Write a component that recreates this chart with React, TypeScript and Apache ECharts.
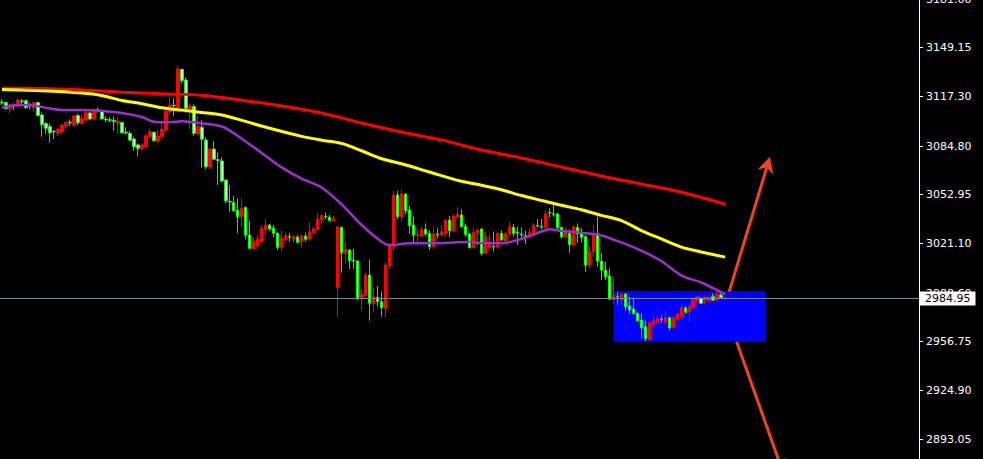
import React, { useEffect, useRef } from "react";
import * as echarts from "echarts";

// Price bars: [open, close, low, high]
const ohlc: number[][] = [
  [3113.6, 3113.2, 3111.6, 3115.4], [3113.2, 3109.3, 3108.8, 3113.8], [3109.0, 3111.6, 3106.2, 3112.1],
  [3111.4, 3111.0, 3108.4, 3112.7], [3111.0, 3114.9, 3110.6, 3116.2], [3114.3, 3113.8, 3111.6, 3115.6],
  [3114.5, 3109.9, 3109.0, 3114.9], [3111.4, 3111.0, 3108.8, 3113.2], [3109.9, 3113.2, 3107.1, 3113.6],
  [3113.2, 3104.7, 3104.5, 3113.8], [3105.1, 3098.8, 3090.9, 3106.6], [3099.6, 3096.4, 3092.7, 3100.5],
  [3097.5, 3093.5, 3087.0, 3099.6], [3094.4, 3094.0, 3089.4, 3095.3], [3093.5, 3095.7, 3091.4, 3096.8],
  [3094.2, 3098.6, 3092.7, 3099.0], [3097.9, 3100.1, 3095.9, 3101.2], [3100.5, 3100.1, 3097.9, 3102.3],
  [3098.6, 3104.5, 3097.5, 3105.1], [3104.7, 3100.1, 3098.6, 3105.8], [3099.6, 3102.9, 3098.6, 3105.8],
  [3101.8, 3106.6, 3100.7, 3108.4], [3106.4, 3102.5, 3101.8, 3107.3], [3102.5, 3108.8, 3102.3, 3109.0],
  [3108.6, 3108.2, 3106.6, 3110.1], [3107.7, 3102.5, 3102.3, 3108.4], [3102.5, 3102.0, 3100.5, 3104.5],
  [3102.0, 3101.6, 3100.5, 3103.6], [3101.6, 3100.7, 3094.8, 3104.0], [3099.6, 3101.2, 3092.7, 3104.0],
  [3100.3, 3093.5, 3093.1, 3100.5], [3094.0, 3093.5, 3092.2, 3097.0], [3093.1, 3088.7, 3088.1, 3094.6],
  [3089.4, 3084.4, 3081.7, 3090.9], [3085.5, 3083.3, 3078.3, 3086.5], [3083.3, 3085.5, 3081.7, 3086.5],
  [3084.4, 3091.4, 3083.9, 3092.7], [3090.9, 3094.2, 3090.3, 3096.4], [3093.8, 3088.3, 3088.1, 3094.2],
  [3088.1, 3091.4, 3086.5, 3095.3], [3090.9, 3095.9, 3090.5, 3100.7], [3095.3, 3107.7, 3094.2, 3108.4],
  [3107.3, 3111.6, 3105.1, 3116.7], [3111.4, 3111.0, 3104.5, 3116.0], [3109.5, 3135.2, 3108.8, 3137.2],
  [3135.0, 3127.6, 3125.8, 3135.2], [3128.0, 3109.5, 3106.6, 3129.8], [3108.8, 3111.0, 3095.7, 3112.7],
  [3110.6, 3093.1, 3091.4, 3112.1], [3092.7, 3097.5, 3092.0, 3104.5], [3097.0, 3089.2, 3070.6, 3101.8],
  [3088.7, 3071.3, 3069.5, 3090.5], [3071.3, 3082.8, 3069.5, 3083.3], [3082.8, 3076.1, 3075.6, 3088.1],
  [3075.9, 3075.4, 3059.3, 3080.7], [3075.0, 3061.9, 3060.8, 3077.4], [3062.5, 3049.0, 3047.3, 3063.0],
  [3048.6, 3048.1, 3041.8, 3059.3], [3047.9, 3042.5, 3041.8, 3052.1], [3042.9, 3038.5, 3027.6, 3050.5],
  [3038.6, 3044.0, 3031.6, 3050.6], [3044.7, 3026.6, 3023.8, 3045.1], [3026.6, 3017.9, 3017.4, 3036.0],
  [3017.6, 3022.7, 3017.4, 3025.1], [3019.6, 3024.0, 3017.2, 3026.6], [3022.2, 3031.0, 3021.1, 3033.1],
  [3030.5, 3033.1, 3026.6, 3037.1], [3033.1, 3030.5, 3029.4, 3033.8], [3031.0, 3027.7, 3025.1, 3033.1],
  [3027.7, 3018.5, 3016.8, 3028.3], [3018.5, 3024.4, 3015.7, 3029.2], [3024.0, 3026.2, 3022.2, 3028.3],
  [3025.5, 3025.1, 3022.2, 3027.9], [3023.8, 3025.5, 3021.6, 3026.8], [3025.3, 3021.8, 3021.1, 3026.6],
  [3022.2, 3026.2, 3018.3, 3027.0], [3025.9, 3023.8, 3022.2, 3028.1], [3024.0, 3028.8, 3022.9, 3034.9],
  [3028.3, 3030.7, 3027.7, 3032.0], [3030.3, 3037.1, 3029.4, 3040.8], [3036.4, 3039.2, 3034.2, 3040.3],
  [3039.0, 3038.6, 3037.1, 3041.4], [3038.2, 3036.0, 3035.8, 3039.7], [3036.0, 3037.5, 3035.3, 3039.0],
  [2992.1, 3032.0, 2973.1, 3032.5], [3031.6, 3015.0, 3001.9, 3032.0], [3014.6, 3017.4, 3008.0, 3022.2],
  [3016.8, 3009.8, 3004.3, 3017.4], [3010.0, 3009.6, 3004.3, 3017.4], [3009.6, 2985.1, 2983.6, 3009.8],
  [2985.1, 2988.0, 2977.1, 2991.2], [2987.3, 3000.4, 2986.2, 3002.2], [3000.4, 2981.9, 2970.5, 3010.2],
  [2981.9, 2986.2, 2975.8, 2992.1], [2985.8, 2983.0, 2979.7, 2993.2], [2983.0, 2979.0, 2973.1, 2989.5],
  [2978.6, 3007.0, 2972.7, 3008.7], [3006.3, 3020.1, 3004.8, 3021.1], [3019.0, 3052.8, 3016.3, 3055.4],
  [3052.8, 3038.6, 3036.9, 3055.4], [3038.6, 3053.4, 3035.3, 3056.1], [3053.4, 3042.5, 3040.3, 3053.9],
  [3043.0, 3032.7, 3027.3, 3045.6], [3033.1, 3026.6, 3021.1, 3038.6], [3026.2, 3027.0, 3021.1, 3030.3],
  [3025.9, 3030.3, 3025.5, 3032.1], [3030.3, 3027.3, 3025.9, 3034.2], [3027.7, 3019.0, 3016.8, 3029.4],
  [3019.0, 3027.3, 3018.5, 3032.1], [3027.3, 3026.8, 3024.4, 3031.0], [3026.6, 3028.8, 3025.5, 3033.1],
  [3027.7, 3036.4, 3025.5, 3036.9], [3036.4, 3029.4, 3025.1, 3039.0], [3029.4, 3039.0, 3028.8, 3040.3],
  [3038.6, 3040.1, 3037.5, 3044.7], [3039.7, 3032.1, 3031.6, 3043.4], [3032.1, 3027.0, 3025.5, 3033.8],
  [3027.3, 3018.3, 3017.9, 3028.1], [3018.3, 3028.3, 3017.9, 3031.6], [3028.1, 3029.9, 3019.4, 3031.0],
  [3030.5, 3014.6, 3013.1, 3031.0], [3014.5, 3025.5, 3014.1, 3028.3], [3018.9, 3021.1, 3017.8, 3027.2],
  [3019.1, 3018.7, 3015.6, 3028.8], [3018.5, 3027.6, 3017.8, 3028.8], [3027.6, 3023.3, 3022.8, 3029.8],
  [3022.8, 3027.6, 3021.1, 3028.8], [3027.2, 3032.0, 3025.5, 3035.3], [3031.6, 3027.6, 3025.5, 3033.7],
  [3028.3, 3027.9, 3020.0, 3032.0], [3027.2, 3026.8, 3023.3, 3031.6], [3026.1, 3025.7, 3020.7, 3029.4],
  [3025.5, 3028.1, 3024.4, 3030.9], [3026.6, 3033.1, 3025.5, 3034.2], [3032.9, 3032.4, 3031.6, 3037.0],
  [3032.2, 3031.8, 3030.3, 3037.0], [3031.3, 3040.7, 3030.9, 3042.9], [3041.4, 3040.9, 3038.1, 3044.0],
  [3040.5, 3040.1, 3038.5, 3046.2], [3040.3, 3031.3, 3030.5, 3041.2], [3031.6, 3025.5, 3024.4, 3032.0],
  [3025.5, 3029.4, 3024.8, 3031.6], [3027.6, 3020.4, 3015.0, 3030.3], [3020.0, 3032.0, 3019.3, 3032.4],
  [3031.6, 3027.2, 3021.5, 3034.2], [3027.6, 3025.0, 3021.5, 3030.9], [3025.5, 3006.9, 3002.5, 3026.6],
  [3006.9, 3016.1, 3004.7, 3019.3], [3015.7, 3027.6, 3012.4, 3033.1], [3027.6, 3009.5, 3005.8, 3038.6],
  [3009.5, 3003.6, 2997.1, 3014.6], [3003.7, 2999.3, 2997.1, 3009.1], [2999.8, 2984.5, 2984.0, 3004.8],
  [2984.5, 2987.3, 2981.9, 2998.9], [2986.4, 2986.0, 2980.8, 2989.1], [2984.0, 2988.0, 2980.1, 2988.4],
  [2988.0, 2979.7, 2976.8, 2988.4], [2980.1, 2977.5, 2974.9, 2985.8], [2978.1, 2975.3, 2974.2, 2985.6],
  [2975.3, 2970.5, 2969.9, 2976.0], [2970.9, 2965.9, 2958.9, 2975.3], [2966.6, 2958.9, 2956.8, 2970.9],
  [2958.3, 2969.2, 2956.8, 2969.9], [2968.3, 2970.5, 2965.5, 2974.2], [2969.4, 2972.0, 2968.8, 2973.6],
  [2971.6, 2971.2, 2969.2, 2974.2], [2969.4, 2972.7, 2968.8, 2976.8], [2972.5, 2965.9, 2964.0, 2973.1],
  [2965.9, 2972.7, 2965.5, 2973.1], [2971.6, 2974.9, 2970.9, 2975.7], [2973.1, 2979.2, 2972.7, 2981.9],
  [2979.0, 2976.0, 2975.3, 2980.1], [2976.4, 2979.7, 2969.9, 2981.4], [2979.2, 2984.5, 2979.0, 2985.8],
  [2983.6, 2986.2, 2982.9, 2986.7], [2985.1, 2981.9, 2981.4, 2985.8], [2984.0, 2985.8, 2981.2, 2986.9],
  [2983.4, 2985.8, 2982.9, 2986.2], [2986.2, 2984.0, 2983.4, 2988.4], [2984.0, 2987.7, 2983.6, 2989.5],
  [2987.3, 2985.6, 2985.1, 2988.4], [2985.1, 2984.95, 2984.7, 2985.3],
];

// Bar slots on the time axis (bars plus the empty shift area on the right)
const slotCount = 230;
const categories = Array.from({ length: slotCount }, (_, i) => String(i));

// Moving averages, sampled as [bar index, price]
const slowMA: number[][] = [
  [0, 3122.6], [10, 3122.5], [20, 3121.5], [30, 3120.0], [40, 3119.0], [50, 3118.0],
  [60, 3114.8], [70, 3111.0], [80, 3106.4], [90, 3099.9], [100, 3094.0], [110, 3088.8],
  [120, 3082.2], [130, 3077.0], [140, 3071.1], [150, 3065.2], [160, 3060.0], [170, 3054.7],
  [181, 3046.7],
];
const midMA: number[][] = [
  [0, 3121.8], [10, 3121.0], [20, 3119.5], [25, 3117.9], [30, 3114.6], [35, 3112.5],
  [40, 3109.8], [45, 3108.3], [50, 3106.8], [55, 3105.1], [60, 3101.6], [67, 3096.4],
  [75, 3091.1], [80, 3088.6], [85, 3086.5], [90, 3081.7], [95, 3076.5], [100, 3073.2],
  [107, 3067.8], [115, 3061.7], [120, 3059.1], [125, 3056.2], [130, 3052.4], [135, 3049.2],
  [140, 3046.0], [145, 3043.1], [150, 3039.4], [155, 3036.0], [160, 3029.5], [165, 3024.0],
  [170, 3018.6], [175, 3015.5], [181, 3012.1],
];
const fastMA: number[][] = [
  [0, 3110.0], [3, 3111.5], [7, 3111.7], [10, 3110.4], [12, 3109.3], [15, 3108.4],
  [20, 3108.4], [25, 3107.7], [30, 3106.4], [35, 3103.8], [38, 3100.7], [42, 3100.4],
  [45, 3101.0], [50, 3099.7], [55, 3097.6], [57, 3094.9], [60, 3089.6], [65, 3080.3],
  [70, 3070.8], [75, 3063.4], [80, 3057.7], [85, 3046.6], [90, 3033.1], [95, 3022.2],
  [97, 3020.0], [102, 3021.2], [107, 3021.2], [112, 3021.5], [117, 3022.2], [120, 3021.2],
  [125, 3021.2], [130, 3024.0], [135, 3028.9], [137, 3030.3], [140, 3029.3], [145, 3028.0],
  [150, 3026.3], [155, 3021.7], [160, 3016.3], [165, 3009.6], [170, 3000.2], [175, 2995.5],
  [180, 2989.1], [181, 2987.8],
];

// Price scale labels on the right
const priceTicks = [3181.0, 3149.15, 3117.3, 3084.8, 3052.95, 3021.1, 2988.6, 2956.75, 2924.9, 2893.05];
const lastPrice = 2984.95;

// Highlighted consolidation zone: [bar, price] corners
const zoneStart = [153, 2989.9];
const zoneEnd = [191, 2957.2];

// Scenario arrows: from [bar, price] to [bar, price]
const arrowPaths = [
  { from: [182.0, 2989.5], to: [192.2, 3077.8] },
  { from: [183.85, 2956.8], to: [195.7, 2869.5] },
];

const FONT = "DejaVu Sans";

export default function App() {
  const ref = useRef<HTMLDivElement>(null);

  useEffect(() => {
    if (!ref.current) return;
    const chart = echarts.init(ref.current, undefined, { renderer: "svg" });

    chart.setOption({
      animation: false,
      backgroundColor: "#000000",
      grid: { left: 0, right: 64, top: -1, bottom: 0, containLabel: false, outerBoundsMode: "none" },
      xAxis: {
        type: "category",
        data: categories,
        boundaryGap: true,
        show: false,
      },
      yAxis: {
        type: "value",
        position: "right",
        min: 2880,
        max: 3181,
        splitLine: { show: false },
        axisLine: { show: true, lineStyle: { color: "#ffffff", width: 1 } },
        axisTick: {
          show: true,
          inside: false,
          length: 4,
          lineStyle: { color: "#ffffff", width: 1 },
          customValues: priceTicks,
        },
        axisLabel: {
          color: "#ffffff",
          fontFamily: FONT,
          fontSize: 11,
          margin: 7,
          customValues: priceTicks,
          formatter: (v: number) => v.toFixed(2),
        },
      },
      series: [
        {
          type: "candlestick",
          data: ohlc,
          barWidth: 3,
          itemStyle: {
            color: "#ff0000",
            color0: "#ffffff",
            borderColor: "#ff0000",
            borderColor0: "#00ff00",
            borderWidth: 1,
          },
          emphasis: { disabled: true },
          markArea: {
            silent: true,
            itemStyle: { color: "#0000ff", opacity: 1 },
            data: [[{ xAxis: zoneStart[0], yAxis: zoneStart[1] }, { xAxis: zoneEnd[0], yAxis: zoneEnd[1] }]],
          },
          markLine: {
            silent: true,
            symbol: "none",
            lineStyle: { color: "#778899", width: 1, type: "solid" },
            label: {
              show: true,
              position: "end",
              distance: 1,
              formatter: () => lastPrice.toFixed(2),
              color: "#000000",
              backgroundColor: "#ffffff",
              fontFamily: FONT,
              fontSize: 11,
              lineHeight: 13,
              padding: [1, 5, 0, 5],
            },
            emphasis: { disabled: true },
            data: [{ yAxis: lastPrice }],
          },
        },
        {
          type: "line",
          data: slowMA,
          showSymbol: false,
          smooth: 0.3,
          lineStyle: { color: "#ff0000", width: 3 },
          silent: true,
        },
        {
          type: "line",
          data: midMA,
          showSymbol: false,
          smooth: 0.3,
          lineStyle: { color: "#ffff00", width: 3 },
          silent: true,
        },
        {
          type: "line",
          data: fastMA,
          showSymbol: false,
          smooth: 0.3,
          lineStyle: { color: "#9932cc", width: 2.5 },
          silent: true,
        },
      ],
    });

    // Arrows are placed through the chart's own scales (fractional bars interpolated between slots)
    const toPx = (bar: number, price: number) => {
      const i0 = Math.floor(bar);
      const a = chart.convertToPixel({ gridIndex: 0 }, [i0, price]) as number[];
      const b = chart.convertToPixel({ gridIndex: 0 }, [i0 + 1, price]) as number[];
      const t = bar - i0;
      return [a[0] + (b[0] - a[0]) * t, a[1]];
    };

    const arrowColor = "#ee4422";
    const headLen = 16;
    const headHalf = 8.3;
    const graphics: any[] = [];
    arrowPaths.forEach((p) => {
      const s = toPx(p.from[0], p.from[1]);
      const e = toPx(p.to[0], p.to[1]);
      const dx = e[0] - s[0];
      const dy = e[1] - s[1];
      const len = Math.hypot(dx, dy);
      const ux = dx / len;
      const uy = dy / len;
      const nx = -uy;
      const ny = ux;
      const baseX = e[0] - ux * headLen;
      const baseY = e[1] - uy * headLen;
      const notchX = e[0] - ux * headLen * 0.7;
      const notchY = e[1] - uy * headLen * 0.7;
      graphics.push({
        type: "line",
        silent: true,
        z: 10,
        shape: { x1: s[0], y1: s[1], x2: notchX, y2: notchY },
        style: { stroke: arrowColor, lineWidth: 3 },
      });
      graphics.push({
        type: "polygon",
        silent: true,
        z: 10,
        shape: {
          points: [
            [e[0], e[1]],
            [baseX + nx * headHalf, baseY + ny * headHalf],
            [notchX, notchY],
            [baseX - nx * headHalf, baseY - ny * headHalf],
          ],
        },
        style: { fill: arrowColor },
      });
    });
    chart.setOption({ graphic: graphics });

    return () => chart.dispose();
  }, []);

  return (
    <div
      ref={ref}
      style={{ position: "fixed", left: 0, top: 0, width: 983, height: 459, background: "#000" }}
    />
  );
}
